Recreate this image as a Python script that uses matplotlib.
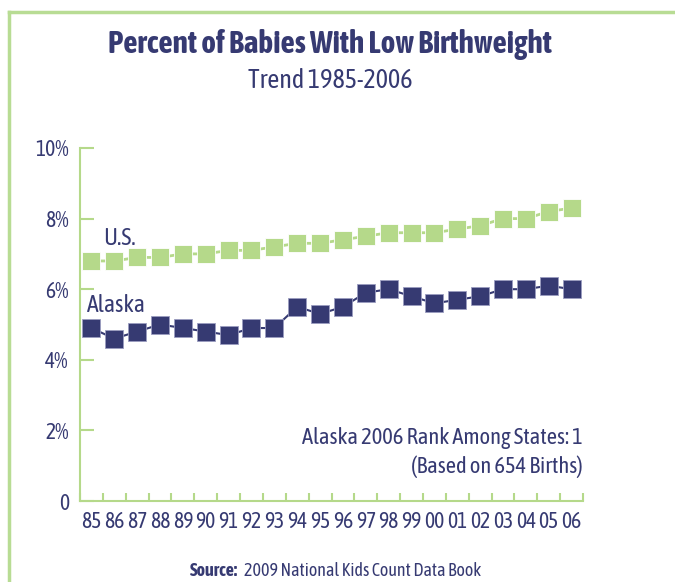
import matplotlib
matplotlib.use("Agg")
import matplotlib.pyplot as plt
from matplotlib.lines import Line2D

# data
years = ["85", "86", "87", "88", "89", "90", "91", "92", "93", "94", "95",
         "96", "97", "98", "99", "00", "01", "02", "03", "04", "05", "06"]
us = [6.8, 6.8, 6.9, 6.9, 7.0, 7.0, 7.1, 7.1, 7.2, 7.3, 7.3,
      7.4, 7.5, 7.6, 7.6, 7.6, 7.7, 7.8, 8.0, 8.0, 8.2, 8.3]
alaska = [4.9, 4.6, 4.8, 5.0, 4.9, 4.8, 4.7, 4.9, 4.9, 5.5, 5.3,
          5.5, 5.9, 6.0, 5.8, 5.6, 5.7, 5.8, 6.0, 6.0, 6.1, 6.0]
yticks = [0, 2, 4, 6, 8, 10]
ytick_labels = ["0", "2%", "4%", "6%", "8%", "10%"]

navy = "#363a72"
green = "#b5d98a"
frame_green = "#b8dc94"

plt.rcParams["font.family"] = ["Asap Condensed", "DejaVu Sans"]

fig = plt.figure(figsize=(6.75, 5.82), dpi=100)

# partial green frame (top and left)
fig.add_artist(Line2D([9 / 675, 1], [1 - 12 / 582, 1 - 12 / 582],
                      transform=fig.transFigure, color=frame_green, lw=2.5))
fig.add_artist(Line2D([9 / 675, 9 / 675], [0, 1 - 12 / 582],
                      transform=fig.transFigure, color=frame_green, lw=2.5))

ax = fig.add_axes([80 / 675, 81 / 582, 503 / 675, 353 / 582])
x = list(range(len(years)))

ax.plot(x, us, color=green, lw=2, marker="s", markersize=12.5,
        markerfacecolor=green, markeredgecolor="white", markeredgewidth=0.6)
ax.plot(x, alaska, color=navy, lw=1.5, marker="s", markersize=12.5,
        markerfacecolor=navy, markeredgecolor="#9a9cc0", markeredgewidth=0.6)

ax.set_xlim(-0.5, len(years) - 0.5)
ax.set_ylim(0, 10)

for s in ["top", "right"]:
    ax.spines[s].set_visible(False)
for s in ["left", "bottom"]:
    ax.spines[s].set_color(green)
    ax.spines[s].set_linewidth(1.5)

ax.set_yticks(yticks)
ax.set_yticklabels(ytick_labels)
ax.tick_params(axis="y", direction="in", length=10, width=1.5, color=green,
               labelcolor=navy, labelsize=15.5, pad=8)

ax.set_xticks([i - 0.5 for i in range(len(years) + 1)])
ax.set_xticklabels([])
ax.set_xticks(x, minor=True)
ax.set_xticklabels(years, minor=True)
ax.tick_params(axis="x", which="major", direction="in", length=6, width=1.5,
               color=green)
ax.tick_params(axis="x", which="minor", length=0, labelcolor=navy,
               labelsize=15.5, pad=7)

ax.text(0.5, 7.1, "U.S.", color=navy, fontsize=17, ha="left", va="bottom")
ax.text(-0.2, 5.2, "Alaska", color=navy, fontsize=17, ha="left", va="bottom")
ax.text(21.5, 1.78, "Alaska 2006 Rank Among States: 1", color=navy,
        fontsize=16.2, ha="right", va="center")
ax.text(21.5, 0.96, "(Based on 654 Births)", color=navy,
        fontsize=16.2, ha="right", va="center")

fig.text(330 / 675, 1 - 45 / 582, "Percent of Babies With Low Birthweight",
         color=navy, fontsize=22.5, fontweight="bold", ha="center", va="center")
fig.text(330 / 675, 1 - 80 / 582, "Trend 1985-2006", color=navy,
         fontsize=18.8, ha="center", va="center")

fig.text(190 / 675, 1 - 571 / 582, "Source:", color=navy, fontsize=13,
         fontweight="bold", ha="left", va="center")
fig.text(244 / 675, 1 - 571 / 582, "2009 National Kids Count Data Book",
         color=navy, fontsize=13, ha="left", va="center")

fig.savefig("out.png", dpi=100)
